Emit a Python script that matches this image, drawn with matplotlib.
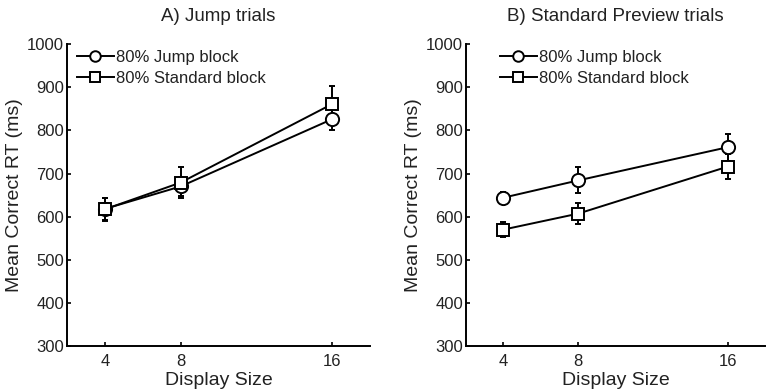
import numpy as np
import matplotlib
matplotlib.use("Agg")
import matplotlib.pyplot as plt

plt.rcParams['font.family'] = ['Liberation Sans', 'DejaVu Sans']
plt.rcParams['text.color'] = '#222222'
plt.rcParams['axes.labelcolor'] = '#222222'
plt.rcParams['xtick.labelcolor'] = '#222222'
plt.rcParams['ytick.labelcolor'] = '#222222'

# data
display_size = [4, 8, 16]

jump_a = [618, 670, 826]
jump_a_err = [25, 22, 25]
std_a = [617, 679, 861]
std_a_err = [27, 35, 42]

jump_b = [644, 684, 761]
jump_b_err = [12, 30, 31]
std_b = [570, 607, 716]
std_b_err = [18, 25, 29]

titles = ["A) Jump trials", "B) Standard Preview trials"]
labels = ["80% Jump block", "80% Standard block"]

fig = plt.figure(figsize=(7.69, 3.90), dpi=100)
ax_a = fig.add_axes([0.0871, 0.1128, 0.394, 0.774])
ax_b = fig.add_axes([0.606, 0.1128, 0.389, 0.774])

panels = [(ax_a, jump_a, jump_a_err, std_a, std_a_err),
          (ax_b, jump_b, jump_b_err, std_b, std_b_err)]

for i, (ax, j, je, s, se) in enumerate(panels):
    ax.errorbar(display_size, j, yerr=je, color='black', lw=1.4,
                marker='o', ms=9.5, mfc='white', mec='black', mew=1.4,
                capsize=2, elinewidth=1.4, label=labels[0])
    ax.errorbar(display_size, s, yerr=se, color='black', lw=1.4,
                marker='s', ms=8.5, mfc='white', mec='black', mew=1.4,
                capsize=2, elinewidth=1.4, label=labels[1])
    ax.set_xlim(2, 18)
    ax.set_ylim(300, 1000)
    ax.set_xticks(display_size)
    ax.set_yticks(np.arange(300, 1001, 100))
    ax.spines['top'].set_visible(False)
    ax.spines['right'].set_visible(False)
    ax.spines['left'].set_linewidth(1.4)
    ax.spines['bottom'].set_linewidth(1.4)
    ax.tick_params(direction='in', length=3, width=1.2, labelsize=12, pad=2)
    ax.tick_params(axis='x', pad=6)
    ax.set_xlabel("Display Size", fontsize=14, labelpad=2)
    ax.set_ylabel("Mean Correct RT (ms)", fontsize=14, labelpad=3)
    ax.set_title(titles[i], fontsize=13.5, pad=17)
    # errorbar handles without the error lines in legend
    h, l = ax.get_legend_handles_labels()
    h = [hh[0] for hh in h]
    anchor = (0.0, 1.015) if i == 0 else (0.08, 1.015)
    ax.legend(h, l, loc='upper left', bbox_to_anchor=anchor, frameon=False,
              fontsize=12, handlelength=2.2, handletextpad=0.15,
              labelspacing=0.4, borderaxespad=0.2, markerscale=0.8)

fig.savefig("out.png", dpi=100)
